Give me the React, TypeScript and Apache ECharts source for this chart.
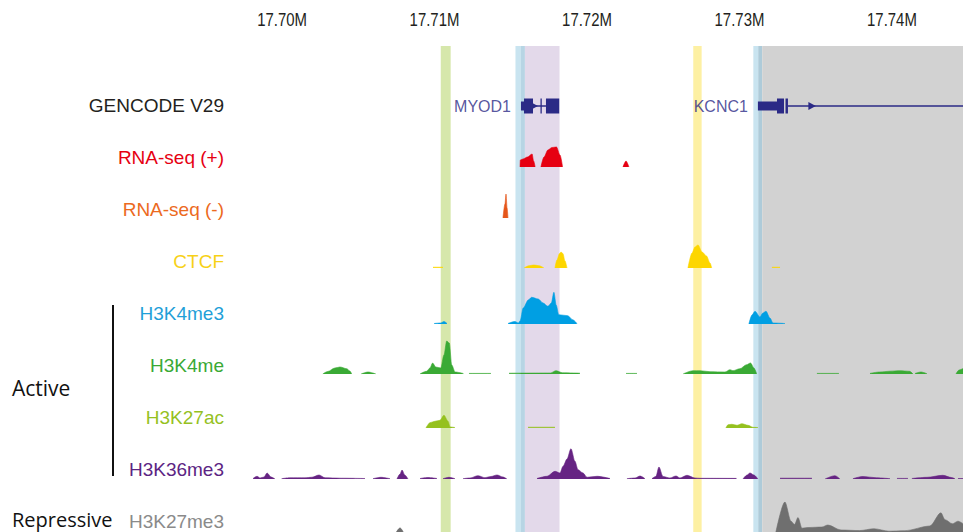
import React, { useEffect, useRef } from "react";
import * as echarts from "echarts";

// ---------- data (genomic positions in kb, signal in track units) ----------
const axisTicks = [17700, 17710, 17720, 17730, 17740];
const xRange = [17697.9, 17744.66];

const trackNames = ["GENCODE V29", "RNA-seq (+)", "RNA-seq (-)", "CTCF", "H3K4me3", "H3K4me", "H3K27ac", "H3K36me3", "H3K27me3"];

// highlight bands [start, end]
const bandGreen = [17710.41, 17711.06];
const bandBlue1 = [17715.31, 17715.67];
const bandBlue1Dark = [17715.67, 17715.93];
const bandPurple = [17715.93, 17718.2];
const bandYellow = [17726.97, 17727.52];
const bandBlue2 = [17730.91, 17731.23];
const bandBlue2Dark = [17731.23, 17731.49];
const bandGray = [17731.49, 17744.66];

// gene models: [start, end, kind]  kind 0=intron,1=UTR,2=CDS,3=strand arrow
const geneParts = [
  [15.67, 15.87, 1], [15.87, 16.46, 2], [16.46, 17.31, 0], [16.52, 16.52, 3], [16.95, 17.0, 2], [17.31, 18.18, 2],
  [31.21, 32.46, 1], [32.46, 32.92, 2], [33.02, 33.18, 2], [33.18, 44.66, 0], [34.75, 34.75, 3],
].map(([s, e, k]) => [17700 + s, 17700 + e, k]);
const geneNames = [
  { name: "MYOD1", start: 17715.67 },
  { name: "KCNC1", start: 17731.21 },
];

const rnaPlus = [
  [[17715.61, 0], [17715.63, 7], [17715.8, 8], [17716.1, 10], [17716.4, 13], [17716.5, 6], [17716.6, 0]],
  [[17716.98, 0], [17717.18, 10], [17717.44, 17], [17717.7, 19.5], [17718.0, 20], [17718.23, 12], [17718.4, 0]],
  [[17722.36, 0], [17722.56, 6], [17722.75, 0]],
];
const rnaMinus = [
  [[17714.49, 0], [17714.62, 14], [17714.69, 24], [17714.76, 10], [17714.82, 0]],
];
const ctcf = [
  [[17709.9, 0.8], [17710.56, 0.8]],
  [[17715.87, 0], [17716.2, 2.3], [17716.52, 3], [17716.85, 2.3], [17717.18, 0]],
  [[17717.9, 0], [17718.03, 8], [17718.2, 14.5], [17718.3, 16], [17718.42, 14.5], [17718.56, 7], [17718.69, 0]],
  [[17726.62, 0], [17726.89, 15], [17727.08, 21], [17727.28, 23], [17727.55, 16], [17727.84, 12], [17728.07, 5], [17728.18, 0]],
  [[17732.13, 0.8], [17732.66, 0.8]],
];
const h3k4me3 = [
  [[17709.97, 0.5], [17710.4, 1], [17710.62, 2.5], [17710.82, 0.5]],
  [[17714.82, 0.5], [17715.28, 2.5], [17715.5, 1], [17715.61, 3], [17715.82, 16], [17716.15, 24], [17716.37, 26.7], [17716.8, 25], [17717.12, 21],
   [17717.44, 17.7], [17717.66, 21], [17717.83, 31.7], [17717.98, 19], [17718.15, 9.3], [17718.74, 8.3], [17719.06, 4.3], [17719.34, 0.5]],
  [[17730.62, 0], [17730.82, 9], [17731.02, 12.7], [17731.34, 7], [17731.54, 11], [17731.74, 12.7], [17732.0, 6], [17732.2, 1], [17732.98, 0.5]],
];
const h3k4me = [
  [[17702.67, 0], [17703.0, 2.5], [17703.47, 6], [17703.8, 7], [17704.24, 5.3], [17704.45, 3], [17704.57, 0]],
  [[17705.18, 0], [17705.64, 2], [17706.16, 0]],
  [[17709.05, 0], [17709.48, 2.7], [17709.7, 6], [17709.88, 11], [17710.08, 7], [17710.41, 6], [17710.62, 19], [17710.8, 33], [17710.97, 31],
   [17711.13, 9], [17711.35, 2], [17711.89, 0.5]],
  [[17712.26, 0.6], [17713.7, 0.6]],
  [[17714.89, 0.8], [17717.6, 1], [17717.97, 3.3], [17718.4, 1.2], [17719.54, 0.8]],
  [[17722.56, 0.6], [17723.28, 0.6]],
  [[17726.3, 0], [17726.95, 3.3], [17727.41, 3.3], [17728.07, 2.3], [17729.05, 2], [17729.38, 4.3], [17729.57, 3.3], [17730.03, 5.3],
   [17730.47, 9.3], [17730.73, 11], [17730.95, 6], [17731.13, 0]],
  [[17735.08, 0.6], [17736.52, 0.6]],
  [[17738.56, 0.6], [17739.2, 2], [17739.87, 2.8], [17740.52, 3.3], [17741.15, 2.7], [17741.38, 0]],
  [[17741.51, 0.5], [17741.9, 2], [17742.3, 0.3]],
  [[17744.2, 0], [17744.4, 4], [17744.66, 5.5]],
];
const h3k27ac = [
  [[17709.44, 0], [17709.7, 5.3], [17710.03, 6.7], [17710.36, 7.7], [17710.62, 12.7], [17710.89, 6.7], [17711.02, 1], [17711.34, 0.5]],
  [[17716.13, 0.8], [17717.9, 0.8]],
  [[17729.11, 0], [17729.25, 3.3], [17729.51, 3.7], [17729.84, 2.7], [17730.16, 4.3], [17730.56, 2.7], [17730.89, 0.7], [17731.21, 0.5]],
];
const h3k36me3 = [
  [[17698.1, 0.5], [17698.36, 2.7], [17698.56, 1], [17698.82, 2], [17699.02, 6], [17699.28, 2], [17699.54, 0]],
  [[17699.98, 0.3], [17700.5, 1.2], [17701.5, 1.2], [17701.97, 1.8], [17702.43, 4], [17702.82, 1.2], [17703.8, 0.8], [17705.44, 0.5]],
  [[17705.97, 0.3], [17706.49, 1.7], [17707.08, 0.3]],
  [[17707.54, 0], [17707.74, 5], [17707.87, 9], [17708.05, 4], [17708.26, 0]],
  [[17709.05, 0.5], [17709.57, 1.5], [17710.16, 0.5]],
  [[17710.56, 0.3], [17710.95, 1.7], [17711.34, 0.3]],
  [[17711.87, 0.3], [17712.33, 1], [17712.85, 3.3], [17713.31, 1.3], [17713.7, 2.5], [17714.1, 4], [17714.49, 2], [17714.75, 0]],
  [[17716.72, 0.5], [17717.38, 2.7], [17717.9, 7.7], [17718.23, 6], [17718.43, 12.7], [17718.69, 20], [17718.95, 30.3], [17719.21, 17.7],
   [17719.41, 9.3], [17719.74, 6], [17720.0, 1.7], [17720.66, 2.7], [17721.51, 0.5]],
  [[17722.62, 0.3], [17723.15, 1], [17723.48, 3], [17723.8, 0.3]],
  [[17724.26, 0.3], [17724.52, 2.5], [17724.72, 12], [17724.98, 2.5], [17725.44, 1], [17725.84, 3], [17726.1, 1], [17726.56, 3.7],
   [17727.08, 1], [17727.41, 0.7], [17729.8, 0.6]],
  [[17730.23, 0], [17730.5, 4], [17730.69, 6], [17730.95, 4], [17731.21, 0]],
  [[17732.66, 0.8], [17734.75, 0.8]],
  [[17735.61, 0], [17736.26, 3.3], [17736.59, 0]],
  [[17737.44, 0.3], [17738.1, 2.5], [17739.0, 1.2], [17739.87, 0.3]],
  [[17740.33, 0.6], [17741.05, 0.6]],
  [[17741.31, 0.5], [17742.3, 1.7], [17743.34, 3.7], [17743.9, 1.5], [17744.13, 0.3]],
  [[17744.33, 0.5], [17744.66, 0.5]],
];
const h3k27me3 = [
  [[17707.5, 0], [17707.74, 5], [17707.95, 0]],
  [[17732.39, 0], [17732.98, 36], [17733.38, 13], [17733.61, 9], [17733.84, 17.3], [17734.1, 4.6], [17734.56, 5.4], [17735.41, 6],
   [17735.8, 8.4], [17736.66, 2.4], [17737.87, 1.7], [17738.82, 3.9], [17739.8, 1], [17740.85, 1.5], [17742.49, 7.3], [17743.21, 23],
   [17743.48, 14.7], [17743.97, 9.9], [17744.33, 13], [17744.66, 10]],
];

const signalTracks = [rnaPlus, rnaMinus, ctcf, h3k4me3, h3k4me, h3k27ac, h3k36me3, h3k27me3];

// ---------- styles / layout ----------
const labelColors = ["#231f20", "#e60012", "#ec6a1e", "#f7d117", "#1f9fd8", "#3aa935", "#95c11f", "#5c2483", "#8a8a8a"];
const fillColors = ["#e60012", "#e5561a", "#fdd600", "#009fe3", "#3aaa35", "#95c11f", "#662483", "#6f6f6f"];
const labelY = [105, 157, 209, 261, 313, 365, 417, 469, 521];
const baselines = [167, 218, 268, 324, 374, 428, 479, 538];
const TRACK_H = 36;
const GRID_LEFT = 250;
const GENE_COLOR = "#2b2a86";
const TRACK_FONT = "'Liberation Sans', Arial, sans-serif";
const GROUP_FONT = "'Open Sans', sans-serif";

function toSeriesData(segs: number[][][]) {
  const out: any[] = [];
  segs.forEach((seg, i) => {
    if (i > 0) out.push([seg[0][0], null]);
    seg.forEach((p) => out.push(p));
  });
  return out;
}

export default function App() {
  const ref = useRef<HTMLDivElement>(null);
  useEffect(() => {
    if (!ref.current) return;
    const chart = echarts.init(ref.current, undefined, { renderer: "svg" });

    const grids: any[] = [];
    const xAxes: any[] = [];
    const yAxes: any[] = [];
    const series: any[] = [];

    // overlay grid (bands + top axis)
    grids.push({ left: GRID_LEFT, right: 0, top: 46, bottom: -10 });
    xAxes.push({
      gridIndex: 0, type: "value", min: xRange[0], max: xRange[1], position: "top",
      axisLine: { show: false }, axisTick: { show: false }, splitLine: { show: false },
      axisLabel: { show: false },
    });
    yAxes.push({ gridIndex: 0, type: "value", min: 0, max: 1, show: false });
    const band = (r: number[], color: string) => [{ xAxis: r[0], itemStyle: { color } }, { xAxis: r[1] }];
    series.push({
      type: "line", xAxisIndex: 0, yAxisIndex: 0, data: [[17720, -1]], showSymbol: false,
      lineStyle: { opacity: 0 }, silent: true, z: 1,
      markArea: {
        silent: true, label: { show: false },
        data: [
          band(bandGreen, "#d6e7ab"), band(bandBlue1, "#c9e4f0"), band(bandBlue1Dark, "#b7d5e4"),
          band(bandPurple, "#e3d9ea"), band(bandYellow, "#fdf0a3"), band(bandBlue2, "#c9e4f0"),
          band(bandBlue2Dark, "#aecbd9"), band(bandGray, "#d2d2d2"),
        ],
      },
    });

    // gene grid
    grids.push({ left: GRID_LEFT, right: 0, top: 90, height: 32 });
    xAxes.push({ gridIndex: 1, type: "value", min: xRange[0], max: xRange[1], show: false });
    yAxes.push({ gridIndex: 1, type: "value", min: 0, max: 1, show: false });
    series.push({
      type: "custom", xAxisIndex: 1, yAxisIndex: 1, z: 3, silent: true, clip: false,
      encode: { x: [0, 1], y: 3 },
      data: geneParts.map((p) => [p[0], p[1], p[2], 0.5]),
      renderItem: (params: any, api: any) => {
        const s = api.value(0), e = api.value(1), kind = api.value(2);
        const p0 = api.coord([s, 0.5]);
        const p1 = api.coord([e, 0.5]);
        const cy = p0[1];
        if (kind === 0) {
          return { type: "line", shape: { x1: p0[0], y1: cy, x2: p1[0], y2: cy }, style: { stroke: GENE_COLOR, lineWidth: 1.5 } };
        }
        if (kind === 3) {
          return { type: "polygon", shape: { points: [[p0[0] - 3.5, cy - 4], [p0[0] + 4, cy], [p0[0] - 3.5, cy + 4]] }, style: { fill: GENE_COLOR } };
        }
        const h = kind === 1 ? 9 : 15;
        return { type: "rect", shape: { x: p0[0], y: cy - h / 2, width: Math.max(p1[0] - p0[0], 1.3), height: h }, style: { fill: GENE_COLOR } };
      },
    });
    series.push({
      type: "scatter", xAxisIndex: 1, yAxisIndex: 1, z: 3, silent: true, symbolSize: 0,
      data: geneNames.map((g) => ({ name: g.name, value: [g.start, 0.5] })),
      label: { show: true, position: "left", distance: 10, formatter: "{b}", color: GENE_COLOR, fontSize: 16, fontFamily: TRACK_FONT },
    });

    // signal tracks
    signalTracks.forEach((segs, i) => {
      const gi = grids.length;
      grids.push({ left: GRID_LEFT, right: 0, top: baselines[i] - TRACK_H, height: TRACK_H });
      xAxes.push({ gridIndex: gi, type: "value", min: xRange[0], max: xRange[1], show: false });
      yAxes.push({ gridIndex: gi, type: "value", min: 0, max: TRACK_H, show: false });
      series.push({
        type: "line", xAxisIndex: gi, yAxisIndex: gi, z: 2, silent: true,
        data: toSeriesData(segs), showSymbol: false, smooth: 0.3, smoothMonotone: "x", connectNulls: false,
        lineStyle: { width: 0.6, color: fillColors[i] },
        areaStyle: { color: fillColors[i], opacity: 1 },
      });
    });

    const graphics: any[] = trackNames.map((name, i) => ({
      type: "text", x: 224, y: labelY[i],
      style: { text: name, fill: labelColors[i], fontSize: 19, fontFamily: TRACK_FONT, align: "right", verticalAlign: "middle" },
    }));
    graphics.push(
      { type: "line", shape: { x1: 113, y1: 305, x2: 113, y2: 476 }, style: { stroke: "#111", lineWidth: 2 } },
      { type: "text", x: 12, y: 388, style: { text: "Active", fill: "#111", fontSize: 21, fontFamily: GROUP_FONT, verticalAlign: "middle" } },
      { type: "text", x: 12, y: 519, style: { text: "Repressive", fill: "#111", fontSize: 20, fontFamily: GROUP_FONT, verticalAlign: "middle" } },
    );

    const option: any = {
      animation: false,
      backgroundColor: "#ffffff",
      grid: grids,
      xAxis: xAxes,
      yAxis: yAxes,
      series,
      graphic: graphics,
    };
    chart.setOption(option);

    // condensed tick labels placed through the axis scale
    const tickTexts = axisTicks.map((v) => ({
      type: "text",
      x: chart.convertToPixel({ xAxisIndex: 0 }, v) as number,
      y: 20,
      scaleX: 0.83,
      style: {
        text: (v / 1000).toFixed(2) + "M", fill: "#231f20", fontSize: 18, fontFamily: TRACK_FONT,
        align: "center", verticalAlign: "middle",
      },
    }));
    chart.setOption({ graphic: [...graphics, ...tickTexts] });

    return () => chart.dispose();
  }, []);
  return <div ref={ref} style={{ position: "absolute", left: 0, top: 0, width: 963, height: 532 }} />;
}
